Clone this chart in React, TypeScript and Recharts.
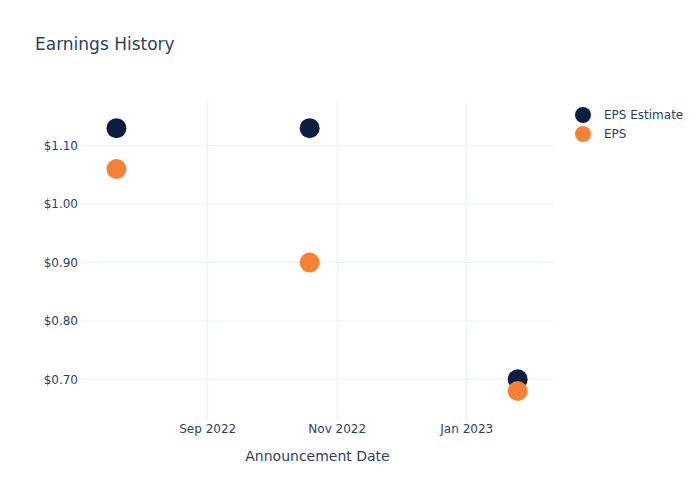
import { ScatterChart, Scatter, XAxis, YAxis, ReferenceLine } from "recharts";

const DAY = 86_400_000;

// Earnings announcements
const announcementDates = ["2022-07-20", "2022-10-19", "2023-01-25"];
const epsEstimate = [1.13, 1.13, 0.7];
const epsActual = [1.06, 0.9, 0.68];

// Axis ticks
const xTickDates = ["2022-09-01", "2022-11-01", "2023-01-01"];
const xTickLabels = ["Sep 2022", "Nov 2022", "Jan 2023"];
const yTicks = [0.7, 0.8, 0.9, 1.0, 1.1];

const NAVY = "#0c1f40";
const ORANGE = "#f58134";
const TEXT = "#2a3f5f";
const GRID = "#ebf0f8";
const FONT = "'DejaVu Sans', Verdana, sans-serif";

const xTicks = xTickDates.map((d) => Date.parse(d));
const xDomain = [xTicks[0] - 59.7 * DAY, xTicks[2] + 41.1 * DAY];

const estimateData = announcementDates.map((d, i) => ({ x: Date.parse(d), y: epsEstimate[i] }));
const epsData = announcementDates.map((d, i) => ({ x: Date.parse(d), y: epsActual[i] }));

const series = [
  { name: "EPS Estimate", color: NAVY, data: estimateData },
  { name: "EPS", color: ORANGE, data: epsData },
];

function dot(color: string) {
  return (props: any) => <circle cx={props.cx} cy={props.cy} r={10} fill={color} />;
}

export default function App() {
  return (
    <div style={{ position: "absolute", left: 0, top: 0, width: 700, height: 500, background: "#fff", fontFamily: FONT }}>
      <div style={{ position: "absolute", left: 35, top: 34, fontSize: 17, lineHeight: "20px", color: TEXT }}>
        Earnings History
      </div>

      <ScatterChart width={700} height={500} margin={{ top: 100, right: 146, bottom: 0, left: 0 }}>
        <XAxis
          type="number"
          dataKey="x"
          domain={xDomain}
          ticks={xTicks}
          allowDataOverflow
          tickFormatter={(v) => xTickLabels[xTicks.indexOf(v)] ?? ""}
          height={80}
          axisLine={false}
          tickLine={false}
          tickSize={0}
          tickMargin={4}
          tick={{ fontSize: 12, fill: TEXT, fontFamily: FONT }}
          label={{ value: "Announcement Date", position: "insideBottom", offset: 39, fontSize: 14, fill: TEXT, fontFamily: FONT }}
        />
        <YAxis
          type="number"
          dataKey="y"
          domain={[0.6303, 1.1782]}
          ticks={yTicks}
          allowDataOverflow
          tickFormatter={(v) => `$${Number(v).toFixed(2)}`}
          width={81}
          axisLine={false}
          tickLine={false}
          tickSize={0}
          tickMargin={3}
          tick={{ fontSize: 12, fill: TEXT, fontFamily: FONT }}
        />
        {/* grid only at the ticks, no frame round the plot */}
        {yTicks.map((t) => (
          <ReferenceLine key={`h${t}`} y={t} stroke={GRID} strokeWidth={1} />
        ))}
        {xTicks.map((t) => (
          <ReferenceLine key={`v${t}`} x={t} stroke={GRID} strokeWidth={1} />
        ))}
        {series.map((s) => (
          <Scatter key={s.name} name={s.name} data={s.data} fill={s.color} shape={dot(s.color)} isAnimationActive={false} />
        ))}
      </ScatterChart>

      {/* Legend */}
      <div style={{ position: "absolute", left: 575, top: 105, fontSize: 12, color: TEXT }}>
        {series.map((s) => (
          <div key={s.name} style={{ display: "flex", alignItems: "center", height: 19 }}>
            <span style={{ width: 16, height: 16, borderRadius: "50%", background: s.color, display: "inline-block" }} />
            <span style={{ marginLeft: 13 }}>{s.name}</span>
          </div>
        ))}
      </div>
    </div>
  );
}
